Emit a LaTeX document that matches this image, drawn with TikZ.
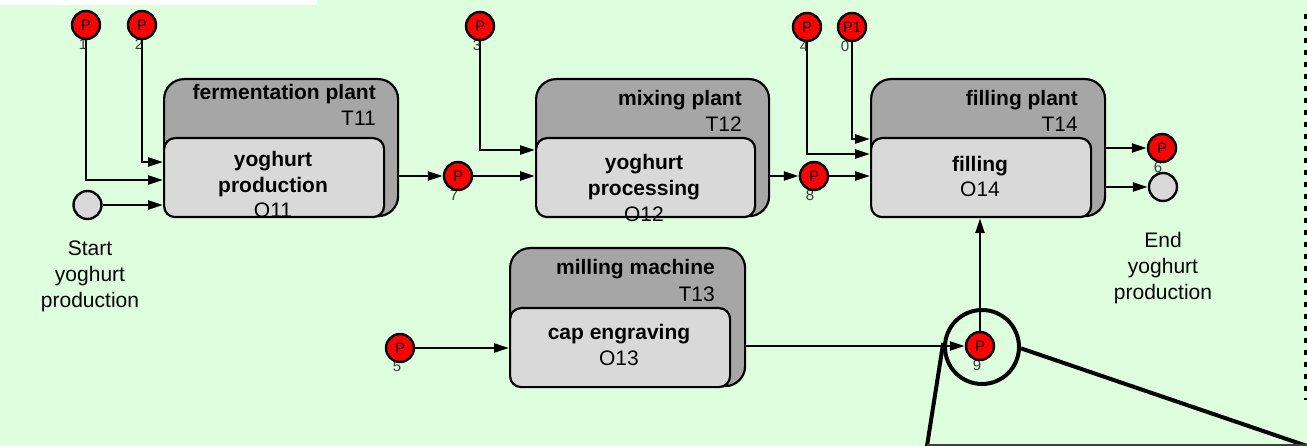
\documentclass[tikz,border=0pt]{standalone}
\usepackage{fontspec}
\setmainfont{Liberation Sans}
\usetikzlibrary{arrows.meta,calc}
\definecolor{bggreen}{RGB}{221,255,221}
\definecolor{outerg}{RGB}{166,166,166}
\definecolor{innerg}{RGB}{217,217,217}
\definecolor{numg}{RGB}{60,60,60}
\definecolor{edgeg}{RGB}{64,64,64}
\begin{document}
\begin{tikzpicture}[x=1pt,y=-1pt,
  outerbox/.style={draw=black, line width=2.2pt, fill=outerg, rounded corners=20pt, anchor=north west, inner sep=0pt},
  innerbox/.style={draw=black, line width=2.2pt, fill=innerg, rounded corners=11pt, anchor=north west, inner sep=0pt},
  ptok/.style={circle, draw=black, line width=2.4pt, fill=red, minimum size=28pt, inner sep=0pt, font=\fontsize{15}{15}\selectfont},
  gtok/.style={circle, draw=black, line width=2.4pt, fill=innerg, minimum size=28pt, inner sep=0pt},
  numlbl/.style={font=\fontsize{15}{15}\selectfont, text=numg, inner sep=0pt},
  plantlbl/.style={font=\bfseries\fontsize{21}{26}\selectfont, anchor=base east, inner sep=0pt},
  tcode/.style={font=\fontsize{21}{26}\selectfont, anchor=base east, inner sep=0pt},
  optext/.style={font=\bfseries\fontsize{21}{26}\selectfont, anchor=base, inner sep=0pt},
  opcode/.style={font=\fontsize{21}{26}\selectfont, anchor=base, inner sep=0pt},
  lbltext/.style={font=\fontsize{21}{26}\selectfont, align=center, inner sep=0pt},
  arr/.style={line width=2.4pt, -{Triangle[length=15pt,width=9pt]}},
  callout/.style={line width=4pt, draw=black}
]
% background
\fill[bggreen] (0,0) rectangle (1307,446);
\fill[white] (0,0) rectangle (317,5);
\useasboundingbox (0,0) rectangle (1307,446);

% fermentation plant
\node[outerbox, minimum width=234pt, minimum height=137pt] (T11) at (163,78) {};
\node[innerbox, minimum width=220pt, minimum height=79pt] (O11) at (163,137) {};
\node[plantlbl] (T11a) at (376,100) {fermentation plant};
\node[tcode] (T11b) at (376,126) {T11};
\node[optext] (O11a) at (273,167) {yoghurt};
\node[optext] (O11b) at (273,193) {production};
\node[opcode] (O11c) at (273,218) {O11};

% mixing plant
\node[outerbox, minimum width=233pt, minimum height=137pt] (T12) at (535,78) {};
\node[innerbox, minimum width=219pt, minimum height=79pt] (O12) at (535,137) {};
\node[plantlbl] (T12a) at (742,106) {mixing plant};
\node[tcode] (T12b) at (742,132) {T12};
\node[optext] (O12a) at (644,170) {yoghurt};
\node[optext] (O12b) at (644,196) {processing};
\node[opcode] (O12c) at (644,222) {O12};

% filling plant
\node[outerbox, minimum width=234pt, minimum height=137pt] (T14) at (870,78) {};
\node[innerbox, minimum width=220pt, minimum height=79pt] (O14) at (870,137) {};
\node[plantlbl] (T14a) at (1078,106) {filling plant};
\node[tcode] (T14b) at (1078,132) {T14};
\node[optext] (O14a) at (980,172) {filling};
\node[opcode] (O14b) at (980,197) {O14};

% milling machine
\node[outerbox, minimum width=235pt, minimum height=138pt] (T13) at (509,247) {};
\node[innerbox, minimum width=220pt, minimum height=79pt] (O13) at (509,307) {};
\node[plantlbl] (T13a) at (715,275) {milling machine};
\node[tcode] (T13b) at (715,302) {T13};
\node[optext] (O13a) at (619,340) {cap engraving};
\node[opcode] (O13b) at (619,366) {O13};

% number labels
\node[numlbl] (n1) at (83,44) {1};
\node[numlbl] (n2) at (139,44) {2};
\node[numlbl] (n3) at (477,45) {3};
\node[numlbl] (n4) at (804,46) {4};
\node[numlbl] (n10) at (845,46) {0};
\node[numlbl] (n7) at (454,195) {7};
\node[numlbl] (n8) at (810,195) {8};
\node[numlbl] (n6) at (1158,167) {6};
\node[numlbl] (n5) at (397,366) {5};
\node[numlbl] (n9) at (977,365) {9};

% tokens
\node[ptok] (p1) at (86,25) {P};
\node[ptok] (p2) at (142,25) {P};
\node[ptok] (p3) at (480,26) {P};
\node[ptok] (p4) at (807,27) {P};
\node[ptok] (p10) at (852,27) {P1};
\node[ptok] (p7) at (458,176) {P};
\node[ptok] (p8) at (814,176) {P};
\node[ptok] (p6) at (1162,148) {P};
\node[ptok] (p5) at (400,348) {P};
\node[ptok] (p9) at (980,346) {P};
\node[gtok] (start) at (87.5,205) {};
\node[gtok] (endc) at (1163,187) {};

\node[lbltext] (startl) at (90,276) {Start\\yoghurt\\production};
\node[lbltext] (endl) at (1163,268) {End\\yoghurt\\production};

% arrows
\draw[arr] (p1) |- (O11.west |- 0,180);
\draw[arr] (p2) |- (O11.west |- 0,162);
\draw[arr] (start) -- (start -| O11.west);
\draw[arr] (p7 -| T11.east) -- (p7);
\draw[arr] (p7) -- (p7 -| O12.west);
\draw[arr] (p3) |- (O12.west |- 0,150);
\draw[arr] (p8 -| T12.east) -- (p8);
\draw[arr] (p8) -- (p8 -| O14.west);
\draw[arr] (p4) |- (O14.west |- 0,154);
\draw[arr] (p10) |- (O14.west |- 0,139);
\draw[arr] (p6 -| T14.east) -- (p6);
\draw[arr] (endc -| T14.east) -- (endc);
\draw[arr] (p5) -- (p5 -| O13.west);
\draw[arr] (p9 -| T13.east) -- (p9);
\draw[arr] (p9) -- (p9 |- O14.south);

% callout
\node[circle, callout, minimum size=74pt, inner sep=0pt] (zoomc) at (982,347) {};
\coordinate (zl) at (927,446);
\coordinate (zr) at (1307,446);
\draw[callout] (zoomc.174) -- (zl);
\draw[callout] (zoomc.-2) -- (zr);
\draw[line width=1.5pt, draw=edgeg] (927,444.8) -- (1307,444.8);

% dashed frame edge
\draw[line width=3pt, dash pattern=on 5pt off 7pt] (1305.5,14) -- (1305.5,400);
\end{tikzpicture}
\end{document}
